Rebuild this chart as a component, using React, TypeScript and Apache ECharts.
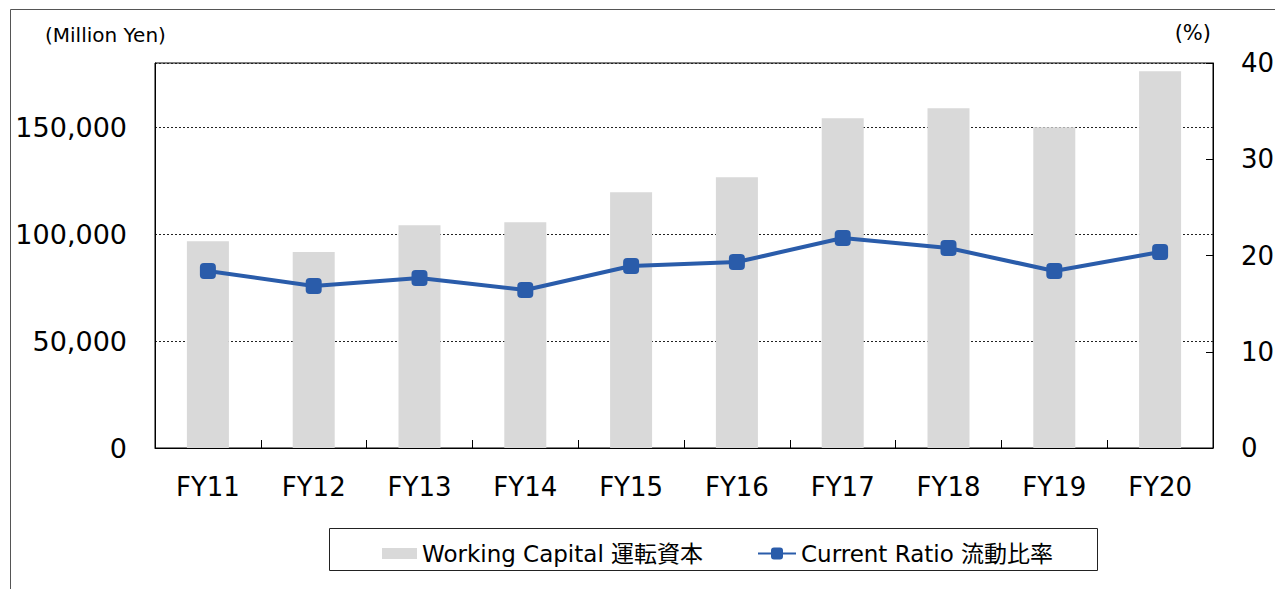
import React, { useEffect, useRef } from "react";
import * as echarts from "echarts";

const categories = ["FY11", "FY12", "FY13", "FY14", "FY15", "FY16", "FY17", "FY18", "FY19", "FY20"];
const workingCapital = [96700, 91600, 104200, 105600, 119600, 126600, 154200, 158900, 150000, 176200];
const currentRatio = [183.9, 168.3, 176.6, 164.2, 189.1, 193.2, 218.2, 207.8, 183.9, 203.6];

const FONT = "'DejaVu Sans', 'Noto Sans CJK JP', sans-serif";
const BAR_NAME = "Working Capital 運転資本";
const LINE_NAME = "Current Ratio 流動比率";

export default function App() {
  const ref = useRef<HTMLDivElement>(null);
  useEffect(() => {
    if (!ref.current) return;
    const chart = echarts.init(ref.current, undefined, { renderer: "svg" });
    chart.setOption({
      animation: false,
      backgroundColor: "#fff",
      textStyle: { fontFamily: FONT, color: "#000" },
      grid: {
        left: 155,
        right: 62,
        top: 63,
        bottom: 141,
        show: true,
        borderColor: "#000",
        borderWidth: 1,
        containLabel: false,
        outerBoundsMode: "none",
      },
      legend: [
        {
          left: 377,
          top: 537,
          itemWidth: 35,
          itemHeight: 11,
          textStyle: { fontFamily: FONT, fontSize: 23, color: "#000" },
          data: [{ name: BAR_NAME, icon: "rect" }],
        },
        {
          left: 752,
          top: 537,
          itemWidth: 38,
          itemHeight: 15,
          textStyle: { fontFamily: FONT, fontSize: 23, color: "#000" },
          data: [{ name: LINE_NAME }],
        },
      ],
      graphic: [
        {
          type: "rect",
          shape: { x: 10.5, y: 9.5, width: 1270, height: 590 },
          style: { fill: "none", stroke: "#555", lineWidth: 1 },
          silent: true,
        },
        {
          type: "rect",
          shape: { x: 329.5, y: 528.5, width: 768, height: 42 },
          style: { fill: "none", stroke: "#222", lineWidth: 1 },
          silent: true,
        },
        {
          type: "text",
          x: 45,
          y: 35,
          style: { text: "(Million Yen)", fontFamily: FONT, fontSize: 20, fill: "#000", textVerticalAlign: "middle" },
        },
        {
          type: "text",
          x: 1211,
          y: 33,
          style: { text: "(%)", fontFamily: FONT, fontSize: 21, fill: "#000", textAlign: "right", textVerticalAlign: "middle" },
        },
      ],
      xAxis: {
        type: "category",
        data: categories,
        boundaryGap: true,
        axisLine: { lineStyle: { color: "#000", width: 1 } },
        axisTick: { show: true, inside: true, length: 8, lineStyle: { color: "#000" } },
        axisLabel: { fontSize: 26, color: "#000", margin: 26, fontFamily: FONT },
      },
      yAxis: [
        {
          type: "value",
          min: 0,
          max: 180000,
          interval: 50000,
          axisLine: { show: true, lineStyle: { color: "#000" } },
          axisTick: { show: false },
          splitLine: { show: true, lineStyle: { color: "#222", type: [2, 2], width: 1 } },
          axisLabel: {
            fontSize: 27,
            color: "#000",
            margin: 28,
            fontFamily: FONT,
            showMaxLabel: false,
            formatter: (v: number) => v.toLocaleString("en-US"),
          },
        },
        {
          type: "value",
          min: 0,
          max: 400,
          interval: 100,
          position: "right",
          axisLine: { show: true, lineStyle: { color: "#000" } },
          axisTick: { show: true, inside: true, length: 7, lineStyle: { color: "#000" } },
          splitLine: { show: false },
          axisLabel: { fontSize: 26, color: "#000", margin: 28, fontFamily: FONT },
        },
      ],
      series: [
        {
          name: BAR_NAME,
          type: "bar",
          data: workingCapital,
          barWidth: 42,
          itemStyle: { color: "#d9d9d9" },
          yAxisIndex: 0,
          z: 2,
        },
        {
          name: LINE_NAME,
          type: "line",
          data: currentRatio,
          yAxisIndex: 1,
          symbol: "roundRect",
          symbolSize: 16,
          lineStyle: { color: "#2A5CAA", width: 4 },
          itemStyle: { color: "#2A5CAA" },
          z: 5,
        },
      ],
    });
    return () => chart.dispose();
  }, []);
  return (
    <div
      ref={ref}
      style={{ position: "absolute", left: 0, top: 0, width: 1275, height: 589, overflow: "hidden" }}
    />
  );
}
